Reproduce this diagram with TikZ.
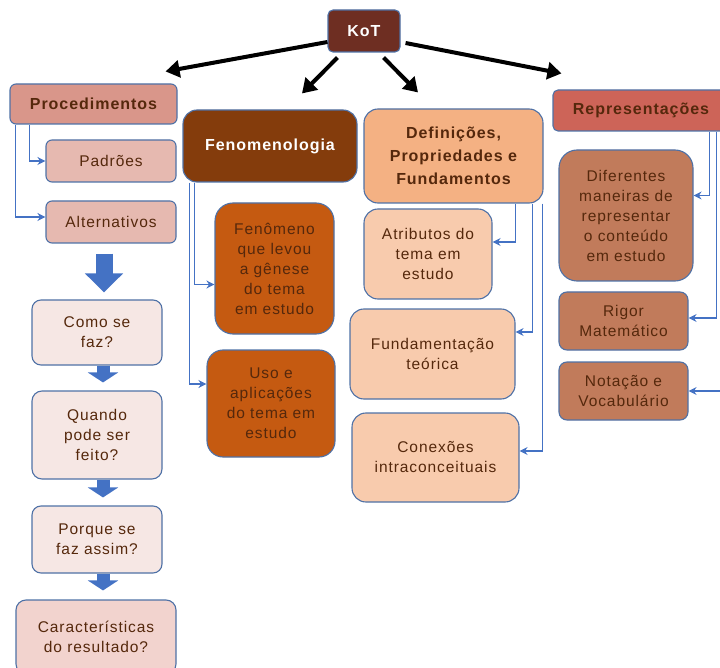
\documentclass[tikz,border=0pt]{standalone}
\usepackage{fontspec}
\setmainfont{Liberation Sans}[LetterSpace=6]
\usetikzlibrary{positioning,arrows.meta}
\definecolor{kotbrown}{HTML}{6E2E22}
\definecolor{procfill}{HTML}{D9968A}
\definecolor{procsub}{HTML}{E6B9B0}
\definecolor{procq}{HTML}{F6E7E4}
\definecolor{procres}{HTML}{F2D3CE}
\definecolor{fenfill}{HTML}{843C0C}
\definecolor{fensub}{HTML}{C55A11}
\definecolor{deffill}{HTML}{F4B183}
\definecolor{defsub}{HTML}{F8CBAD}
\definecolor{repfill}{HTML}{CD6458}
\definecolor{repsub}{HTML}{C17B5B}
\definecolor{boxedge}{HTML}{4F71A6}
\definecolor{linkblue}{HTML}{4472C4}
\definecolor{textbrown}{HTML}{55280C}

\begin{document}
\begin{tikzpicture}[x=1pt,y=-1pt,>={Stealth[length=8pt,width=8pt]},
  box/.style={draw=boxedge,line width=1.1pt,align=center,text=textbrown,inner sep=1pt,
    font=\fontsize{15.5}{20}\selectfont},
  headbox/.style={box,font=\fontsize{16}{23}\selectfont\bfseries},
  elbow/.style={->,draw=linkblue,line width=1.1pt},
  kotarrow/.style={-{Triangle[width=17pt,length=14pt]},line width=4pt},
  blockarrow/.style={-{Triangle[width=37pt,length=19pt]},line width=17pt,draw=linkblue},
  smallblock/.style={-{Triangle[width=30pt,length=10pt]},line width=13pt,draw=linkblue}]
  \useasboundingbox (0,0) rectangle (720,668);
  % topo
  \node[headbox,fill=kotbrown,text=white,rounded corners=5pt,minimum width=72pt,minimum height=42pt] (kot) at (364,31) {KoT};
  % procedimentos
  \node[headbox,fill=procfill,rounded corners=6pt,minimum width=167pt,minimum height=40pt] (proc) at (93.5,104) {Procedimentos};
  \node[box,fill=procsub,rounded corners=6pt,minimum width=130pt,minimum height=42pt] (padroes) at (111,161) {Padrões};
  \node[box,fill=procsub,rounded corners=6pt,minimum width=130pt,minimum height=42pt] (altern) at (111,222) {Alternativos};
  \node[box,fill=procq,rounded corners=9pt,minimum width=130pt,minimum height=65pt] (como) at (97,332.5) {Como se\\faz?};
  \node[box,fill=procq,rounded corners=10pt,minimum width=130pt,minimum height=88pt] (quando) at (97,435) {Quando\\pode ser\\feito?};
  \node[box,fill=procq,rounded corners=9pt,minimum width=130pt,minimum height=67pt] (porque) at (97,539.5) {Porque se\\faz assim?};
  \node[box,fill=procres,rounded corners=10pt,minimum width=160pt,minimum height=74pt] (caract) at (96,637) {Características\\do resultado?};
  % fenomenologia
  \node[headbox,fill=fenfill,text=white,rounded corners=14pt,minimum width=174pt,minimum height=72pt] (fenom) at (270,146) {Fenomenologia};
  \node[box,fill=fensub,rounded corners=18pt,minimum width=119pt,minimum height=131pt] (fenomeno) at (274.5,268.5) {Fenômeno\\que levou\\a gênese\\do tema\\em estudo};
  \node[box,fill=fensub,rounded corners=16pt,minimum width=128pt,minimum height=107pt] (uso) at (271,403.5) {Uso e\\aplicações\\do tema em\\estudo};
  % definicoes
  \node[headbox,fill=deffill,rounded corners=14pt,minimum width=179pt,minimum height=94pt] (defin) at (453.5,156) {Definições,\\Propriedades e\\Fundamentos};
  \node[box,fill=defsub,rounded corners=14pt,minimum width=128pt,minimum height=90pt] (atrib) at (428,254) {Atributos do\\tema em\\estudo};
  \node[box,fill=defsub,rounded corners=14pt,minimum width=165pt,minimum height=90pt] (fundam) at (432.5,354) {Fundamentação\\teórica};
  \node[box,fill=defsub,rounded corners=14pt,minimum width=167pt,minimum height=89pt] (conex) at (435.5,457.5) {Conexões\\intraconceituais};
  % representacoes
  \node[headbox,fill=repfill,rounded corners=5pt,minimum width=176pt,minimum height=41pt] (repres) at (641,110.5) {Representações};
  \node[box,fill=repsub,rounded corners=18pt,minimum width=134pt,minimum height=131pt] (diferentes) at (626,215.5) {Diferentes\\maneiras de\\representar\\o conteúdo\\em estudo};
  \node[box,fill=repsub,rounded corners=8pt,minimum width=129pt,minimum height=58pt] (rigor) at (623.5,321) {Rigor\\Matemático};
  \node[box,fill=repsub,rounded corners=8pt,minimum width=129pt,minimum height=58pt] (notacao) at (623.5,391) {Notação e\\Vocabulário};
  % setas do KoT
  \draw[kotarrow] ([yshift=-11pt]kot.west) -- ([shift={(-12pt,12pt)}]proc.north east);
  \draw[kotarrow] ([shift={(10pt,-5pt)}]kot.south west) -- ([shift={(32pt,16pt)}]fenom.north);
  \draw[kotarrow] ([shift={(-17pt,-5pt)}]kot.south east) -- ([shift={(-35.5pt,16pt)}]defin.north);
  \draw[kotarrow] ([shift={(5pt,-12pt)}]kot.east) -- ([shift={(9pt,16pt)}]repres.north west);
  % ligacoes
  \draw[elbow] ([xshift=20pt]proc.south west) |- (padroes.west);
  \draw[elbow] ([xshift=6pt]proc.south west) |- ([yshift=5pt]altern.west);
  \draw[elbow] ([xshift=12pt]fenom.south west) |- ([yshift=-16pt]fenomeno.west);
  \draw[elbow] ([xshift=7pt]fenom.south west) |- ([yshift=19.5pt]uso.west);
  \draw[elbow] ([xshift=-28pt]defin.south east) |- ([yshift=12pt]atrib.east);
  \draw[elbow] ([xshift=-11pt]defin.south east) |- ([yshift=22pt]fundam.east);
  \draw[elbow] ([xshift=-1pt]defin.south east) |- ([yshift=6.5pt]conex.east);
  \draw[elbow] ([xshift=157pt]repres.south west) |- ([yshift=20pt]diferentes.east);
  \draw[elbow] ([xshift=164pt]repres.south west) |- ([yshift=3pt]rigor.east);
  \draw[elbow] ([xshift=171pt]repres.south west) |- (notacao.east);
  % sequencia
  \draw[blockarrow,shorten <=10pt,shorten >=7pt] ([xshift=-7pt]altern.south) -- ([xshift=7pt]como.north);
  \draw[smallblock,shorten >=8pt] ([xshift=6pt]como.south) -- ([xshift=6pt]quando.north);
  \draw[smallblock,shorten >=8pt] ([xshift=6pt]quando.south) -- ([xshift=6pt]porque.north);
  \draw[smallblock,shorten >=9pt] ([xshift=6pt]porque.south) -- ([xshift=7pt]caract.north);
\end{tikzpicture}
\end{document}
